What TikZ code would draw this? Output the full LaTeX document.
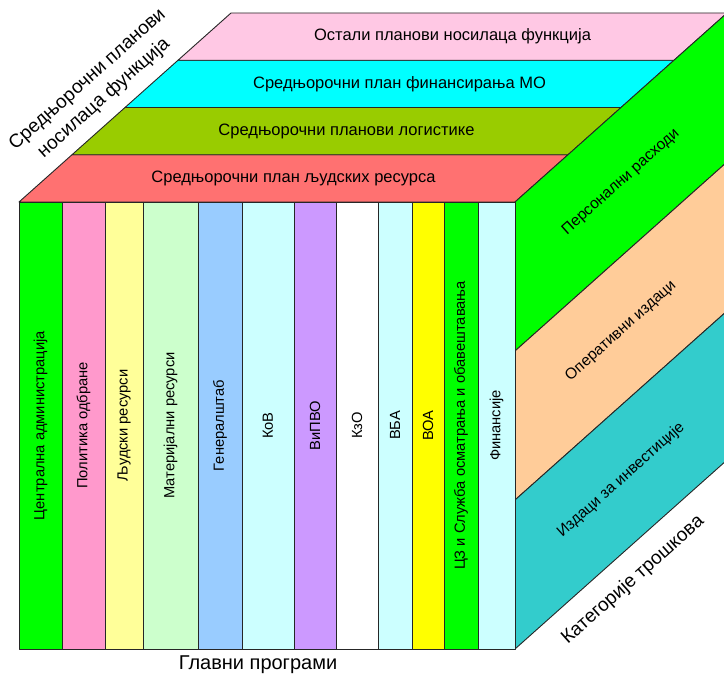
\documentclass[tikz,border=0pt]{standalone}
\usepackage{fontspec}
\setmainfont{Liberation Sans}
% fills of the three faces
\definecolor{pGreen}{HTML}{00FF00}
\definecolor{pPink}{HTML}{FF99CC}
\definecolor{pYellow}{HTML}{FFFF99}
\definecolor{pMint}{HTML}{CCFFCC}
\definecolor{pBlue}{HTML}{99CCFF}
\definecolor{pCyanL}{HTML}{CCFFFF}
\definecolor{pLilac}{HTML}{CC99FF}
\definecolor{pWhite}{HTML}{FFFFFF}
\definecolor{pGold}{HTML}{FFFF00}
\definecolor{tRed}{HTML}{FF7171}
\definecolor{tOlive}{HTML}{99CC00}
\definecolor{tCyan}{HTML}{00FFFF}
\definecolor{tRose}{HTML}{FFC8E4}
\definecolor{rPeach}{HTML}{FFCC99}
\definecolor{rTeal}{HTML}{33CCCC}
\begin{document}
\begin{tikzpicture}[x=1pt,y=-1pt,
  face/.style={draw=black!85, line width=0.9pt, line join=round},
  toplbl/.style={font=\fontsize{16.5}{19}\selectfont, inner sep=0pt},
  sidelbl/.style={font=\fontsize{15.5}{18}\selectfont, inner sep=0pt},
  collbl/.style={font=\fontsize{14.7}{17}\selectfont, inner sep=0pt},
  ttl/.style={font=\fontsize{19}{24.5}\selectfont, align=center, inner sep=0pt}]
\useasboundingbox (0,0) rectangle (724,679);
\begin{scope}
\clip (0,0) rectangle (724,679);
% top face: four bands stacked in depth
\foreach \k/\col/\txt in {0/tRed/{Средњорочни план људских ресурса},
                          1/tOlive/{Средњорочни планови логистике},
                          2/tCyan/{Средњорочни план финансирања МО},
                          3/tRose/{Остали планови носилаца функција}}{
  \pgfmathsetmacro{\xa}{19+53*\k}
  \pgfmathsetmacro{\ya}{202-47.25*\k}
  \pgfmathsetmacro{\xb}{19+53*(\k+1)}
  \pgfmathsetmacro{\yb}{202-47.25*(\k+1)}
  \draw[face, fill=\col] (\xa,\ya) -- (\xa+496,\ya) -- (\xb+496,\yb) -- (\xb,\yb) -- cycle;
  \node[toplbl] (top\k) at ({(\xa+\xb)/2+248},{(\ya+\yb)/2}) {\txt};
}
% right face: three cost categories
\foreach \j/\col/\txt in {0/pGreen/{Персонални расходи},
                          1/rPeach/{Оперативни издаци},
                          2/rTeal/{Издаци за инвестиције}}{
  \pgfmathsetmacro{\ya}{202+149*\j}
  \pgfmathsetmacro{\yb}{202+149*(\j+1)}
  \draw[face, fill=\col] (515,\ya) -- (727,\ya-189) -- (727,\yb-189) -- (515,\yb) -- cycle;
  \node[sidelbl, rotate=41.7] (side\j) at (621,{(\ya+\yb)/2-94.5}) {\txt};
}
% front face: main programmes
\foreach \a/\b/\col/\txt [count=\i] in {19/62/pGreen/{Централна администрација},
    62/105/pPink/{Политика одбране},
    105/143/pYellow/{Људски ресурси},
    143/198/pMint/{Материјални ресурси},
    198/242/pBlue/{Генералштаб},
    242/294/pCyanL/{КоВ},
    294/336/pLilac/{ВиПВО},
    336/378/pWhite/{КзО},
    378/412/pCyanL/{ВБА},
    412/444/pGold/{ВОА},
    444/478/pGreen/{ЦЗ и Служба осматрања и обавештавања},
    478/515/pCyanL/{Финансије}}{
  \draw[face, fill=\col] (\a,202) rectangle (\b,649);
  \node[collbl, rotate=90] (col\i) at ({(\a+\b)/2},425.5) {\txt};
}
\end{scope}
% axis titles
\node[ttl, rotate=41.7] (axisTop) at (96,89) {Средњорочни планови\\носилаца функција};
\node[ttl, rotate=41.7] (axisSide) at (633,580) {Категорије трошкова};
\node[ttl, font=\fontsize{20}{24}\selectfont] (axisFront) at (258,665) {Главни програми};
\end{tikzpicture}
\end{document}
